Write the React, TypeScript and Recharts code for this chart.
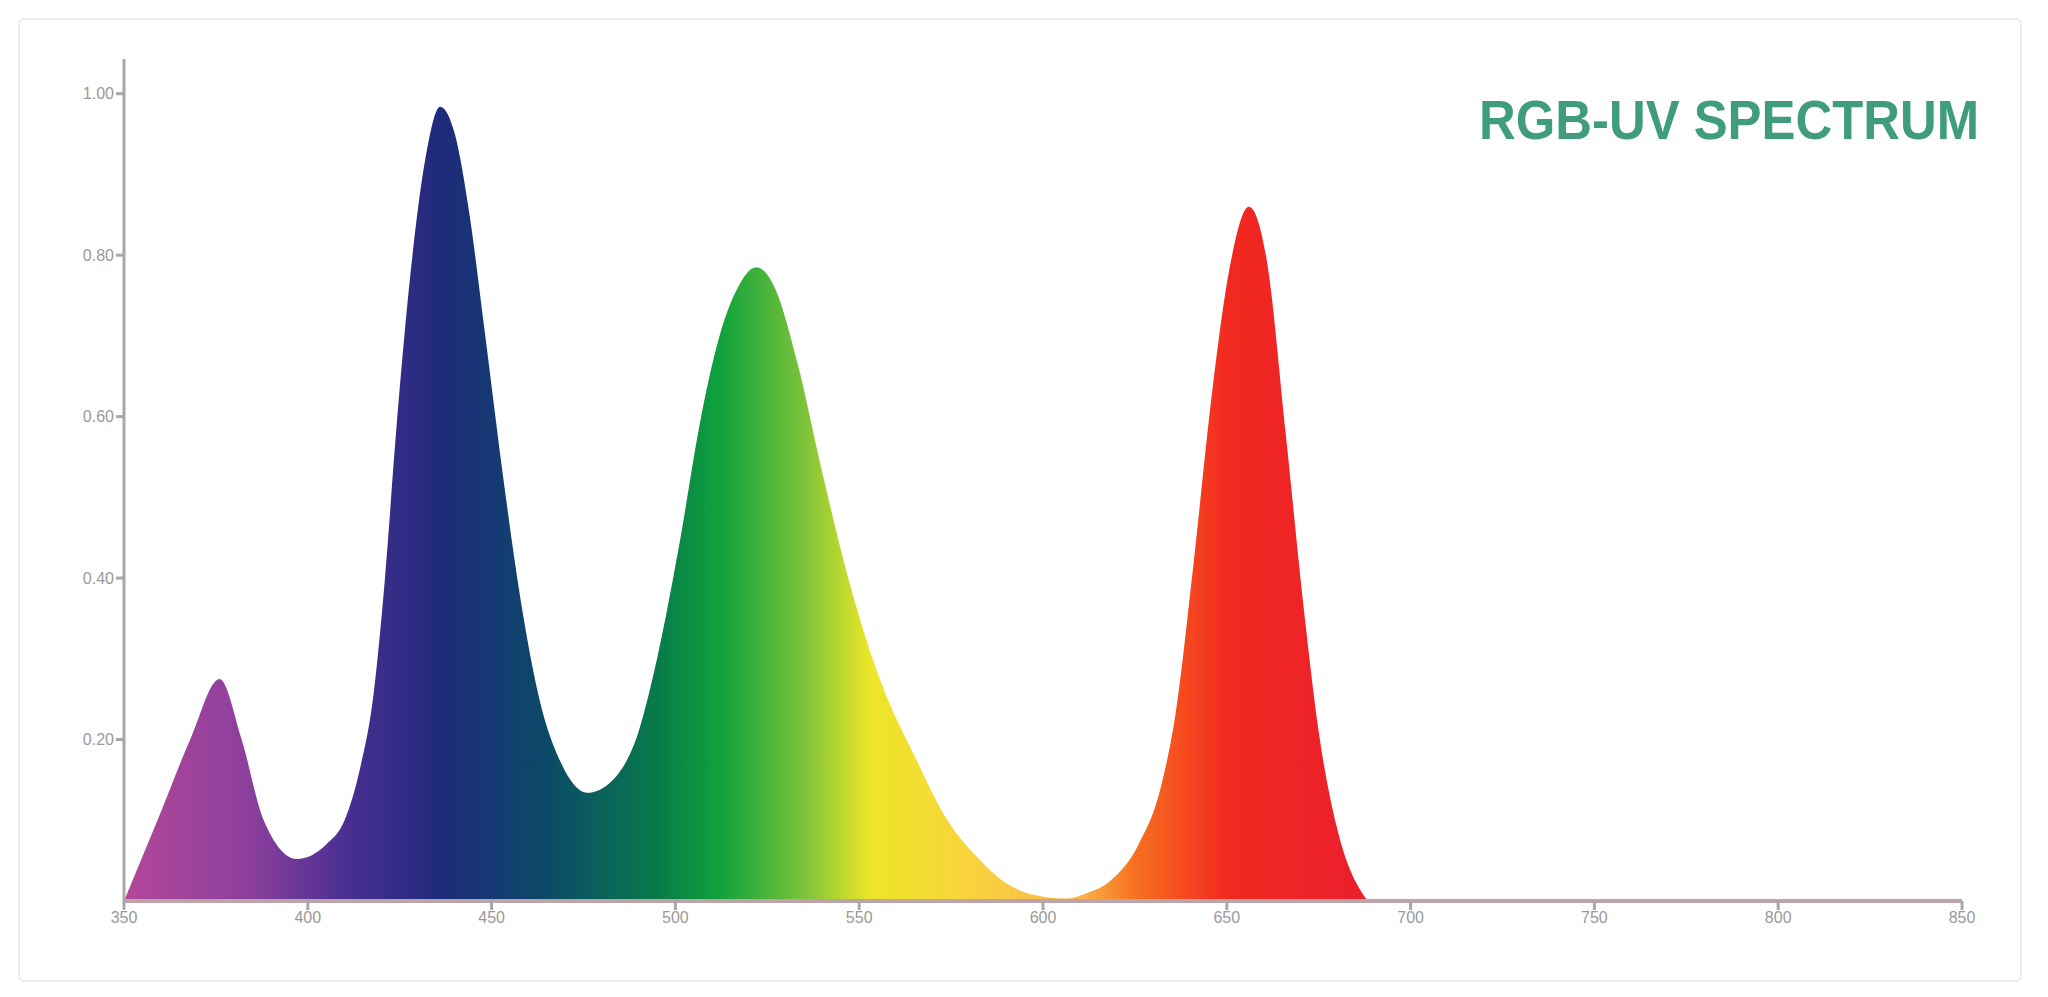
import { AreaChart, Area, XAxis, YAxis } from 'recharts'

// wavelength (nm) and relative intensity
const wavelengths = [
  350, 360, 368, 376, 382, 388, 397, 405, 410, 414, 418, 421, 424, 428, 432,
  436, 440, 444, 448, 453, 458, 463, 469, 476, 483, 490, 495, 501, 507, 512,
  517, 522, 527, 533, 540, 547, 556, 565, 574, 583, 590, 597, 606, 612, 618,
  626, 632, 636, 641, 646, 651, 656, 661, 666, 671, 675, 680, 686, 689, 700,
  750, 800, 850,
]
const intensity = [
  0.0, 0.11, 0.2, 0.275, 0.2, 0.1, 0.052, 0.07, 0.1, 0.16, 0.26, 0.4, 0.58,
  0.78, 0.92, 0.984, 0.95, 0.85, 0.71, 0.53, 0.37, 0.25, 0.17, 0.134, 0.15,
  0.21, 0.3, 0.44, 0.6, 0.7, 0.76, 0.785, 0.76, 0.67, 0.53, 0.4, 0.27, 0.18,
  0.1, 0.05, 0.022, 0.008, 0.003, 0.01, 0.024, 0.07, 0.14, 0.23, 0.42, 0.63,
  0.79, 0.86, 0.79, 0.58, 0.36, 0.21, 0.09, 0.016, 0.0, 0.0, 0.0, 0.0, 0.0,
]
const xTicks = [350, 400, 450, 500, 550, 600, 650, 700, 750, 800, 850]
const yTicks = [0.2, 0.4, 0.6, 0.8, 1.0]

const spectrumStops = [
  { nm: 350, color: '#b3479a' },
  { nm: 385, color: '#8a3f9c' },
  { nm: 410, color: '#4a2f92' },
  { nm: 436, color: '#1f2a7c' },
  { nm: 465, color: '#0b4a68' },
  { nm: 495, color: '#087a4a' },
  { nm: 512, color: '#0ea23c' },
  { nm: 535, color: '#7cc33a' },
  { nm: 553, color: '#ece628' },
  { nm: 580, color: '#f8d43c' },
  { nm: 610, color: '#f9b54a' },
  { nm: 625, color: '#f7701f' },
  { nm: 650, color: '#f2291f' },
  { nm: 690, color: '#ea1e2e' },
  { nm: 850, color: '#ea1e2e' },
]

const data = wavelengths.map((nm, i) => ({ nm, value: intensity[i] }))

export default function App() {
  return (
    <div
      style={{
        position: 'absolute',
        left: 0,
        top: 0,
        width: 2048,
        height: 997,
        background: '#fff',
        fontFamily: 'Liberation Sans, Arial, sans-serif',
      }}
    >
      <div
        style={{
          position: 'absolute',
          left: 18,
          top: 18,
          width: 2000,
          height: 960,
          border: '2px solid #ececec',
          borderRadius: 6,
        }}
      />
      <AreaChart
        width={2048}
        height={997}
        data={data}
        margin={{ top: 59, right: 86, left: 64, bottom: 56 }}
        style={{ position: 'absolute', left: 0, top: 0 }}
      >
        <defs>
          <linearGradient id="spectrum" x1="0" y1="0" x2="1" y2="0">
            {spectrumStops.map((s) => (
              <stop key={s.nm} offset={(s.nm - 350) / 500} stopColor={s.color} />
            ))}
          </linearGradient>
        </defs>
        <XAxis
          dataKey="nm"
          type="number"
          domain={[350, 850]}
          ticks={xTicks}
          height={40}
          axisLine={{ stroke: '#bda4a8', strokeWidth: 4 }}
          tickLine={{ stroke: '#a8a8a8', strokeWidth: 3 }}
          tickSize={9}
          tick={{ fill: '#999', fontSize: 16 }}
        />
        <YAxis
          type="number"
          domain={[0, 1.043]}
          ticks={yTicks}
          width={60}
          axisLine={{ stroke: '#a8a8a8', strokeWidth: 3 }}
          tickLine={{ stroke: '#a8a8a8', strokeWidth: 3 }}
          tickSize={8}
          tickFormatter={(v: number) => v.toFixed(2)}
          tick={{ fill: '#999', fontSize: 16 }}
        />
        <Area
          type="monotone"
          dataKey="value"
          stroke="none"
          fill="url(#spectrum)"
          fillOpacity={1}
          isAnimationActive={false}
        />
        <text
          x={1979}
          y={139}
          textAnchor="end"
          fill="#3f9d7c"
          fontSize={56}
          fontWeight="bold"
          textLength={500}
          lengthAdjust="spacingAndGlyphs"
          fontFamily="Liberation Sans Narrow, Liberation Sans, Arial, sans-serif"
        >
          RGB-UV SPECTRUM
        </text>
      </AreaChart>
    </div>
  )
}
